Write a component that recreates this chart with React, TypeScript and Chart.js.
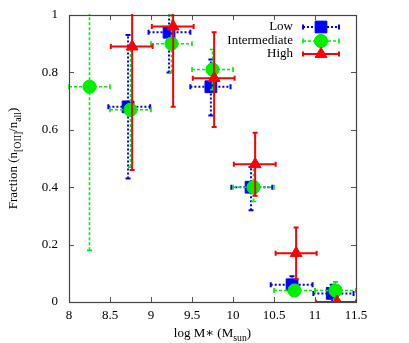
import React, { useEffect, useRef } from "react";
import { Chart, registerables } from "chart.js";
Chart.register(...registerables);

// Low
const lowX = [8.72, 9.22, 9.73, 10.22, 10.72, 11.21];
const lowY = [0.68, 0.94, 0.75, 0.40, 0.06, 0.03];
const lowXMin = [8.48, 8.97, 9.48, 9.98, 10.46, 10.98];
const lowXMax = [8.99, 9.48, 9.97, 10.48, 10.97, 11.47];
const lowYMin = [0.43, 0.80, 0.65, 0.32, 0.03, 0.0];
const lowYMax = [0.93, 1.02, 0.845, 0.47, 0.09, 0.06];

// Intermediate
const intX = [8.25, 8.75, 9.25, 9.75, 10.25, 10.75, 11.25];
const intY = [0.75, 0.67, 0.90, 0.81, 0.40, 0.04, 0.04];
const intXMin = [8.0, 8.5, 9.0, 9.5, 10.0, 10.5, 11.0];
const intXMax = [8.5, 9.0, 9.5, 10.0, 10.5, 11.0, 11.5];
const intYMin = [0.18, 0.47, 0.80, 0.74, 0.35, 0.02, 0.01];
const intYMax = [1.05, 0.88, 1.0, 0.88, 0.47, 0.06, 0.07];

// High
const highX = [8.77, 9.27, 9.77, 10.27, 10.77, 11.27];
const highY = [0.89, 0.96, 0.78, 0.48, 0.17, 0.0];
const highXMin = [8.51, 9.01, 9.51, 10.01, 10.52, 11.01];
const highXMax = [9.02, 9.52, 10.02, 10.52, 11.02, 11.5];
const highYMin = [0.46, 0.68, 0.61, 0.37, 0.08, 0.0];
const highYMax = [1.05, 1.05, 0.94, 0.59, 0.26, 0.0];

const xTicks = [8, 8.5, 9, 9.5, 10, 10.5, 11, 11.5];
const xTickLabels = ["8", "8.5", "9", "9.5", "10", "10.5", "11", "11.5"];
const yTicks = [0, 0.2, 0.4, 0.6, 0.8, 1];
const yTickLabels = ["0", "0.2", "0.4", "0.6", "0.8", "1"];

const seriesNames = ["Low", "Intermediate", "High"];

const FONT = "'Liberation Serif', 'DejaVu Serif', serif";

type Series = {
  label: string;
  x: number[];
  y: number[];
  xmin: number[];
  xmax: number[];
  ymin: number[];
  ymax: number[];
  color: string;
  dash: number[];
  lw: number;
  style: string;
  radius: number;
};

const series: Series[] = [
  { label: seriesNames[0], x: lowX, y: lowY, xmin: lowXMin, xmax: lowXMax, ymin: lowYMin, ymax: lowYMax, color: "#0000ff", dash: [2, 2], lw: 2, style: "rect", radius: 8.3 },
  { label: seriesNames[1], x: intX, y: intY, xmin: intXMin, xmax: intXMax, ymin: intYMin, ymax: intYMax, color: "#00ee00", dash: [3, 2], lw: 1.6, style: "circle", radius: 6.6 },
  { label: seriesNames[2], x: highX, y: highY, xmin: highXMin, xmax: highXMax, ymin: highYMin, ymax: highYMax, color: "#ff0000", dash: [], lw: 2, style: "triangle", radius: 6.8 },
];

function drawMarker(ctx: CanvasRenderingContext2D, style: string, r: number, x: number, y: number) {
  ctx.beginPath();
  if (style === "rect") {
    const h = Math.SQRT1_2 * r;
    ctx.rect(x - h, y - h, 2 * h, 2 * h);
  } else if (style === "circle") {
    ctx.arc(x, y, r, 0, Math.PI * 2);
  } else {
    let rad = 0;
    ctx.moveTo(x + Math.sin(rad) * r, y - Math.cos(rad) * r);
    rad += (2 * Math.PI) / 3;
    ctx.lineTo(x + Math.sin(rad) * r, y - Math.cos(rad) * r);
    rad += (2 * Math.PI) / 3;
    ctx.lineTo(x + Math.sin(rad) * r, y - Math.cos(rad) * r);
    ctx.closePath();
  }
  ctx.fill();
  ctx.stroke();
}

function drawErrorBars(ctx: CanvasRenderingContext2D, s: Series, px: (v: number) => number, py: (v: number) => number) {
  const cap = 2.5;
  ctx.save();
  ctx.strokeStyle = s.color;
  ctx.lineWidth = s.lw;
  ctx.setLineDash(s.dash);
  for (let i = 0; i < s.x.length; i++) {
    const x = px(s.x[i]);
    const y = py(s.y[i]);
    const x0 = px(s.xmin[i]);
    const x1 = px(s.xmax[i]);
    const y0 = py(s.ymin[i]);
    const y1 = py(s.ymax[i]);
    ctx.beginPath();
    ctx.moveTo(x0, y);
    ctx.lineTo(x1, y);
    ctx.moveTo(x, y0);
    ctx.lineTo(x, y1);
    ctx.stroke();
    ctx.setLineDash([]);
    ctx.beginPath();
    ctx.moveTo(x0, y - cap);
    ctx.lineTo(x0, y + cap);
    ctx.moveTo(x1, y - cap);
    ctx.lineTo(x1, y + cap);
    ctx.moveTo(x - cap, y0);
    ctx.lineTo(x + cap, y0);
    ctx.moveTo(x - cap, y1);
    ctx.lineTo(x + cap, y1);
    ctx.stroke();
    ctx.setLineDash(s.dash);
  }
  ctx.restore();
}

function drawSubText(ctx: CanvasRenderingContext2D, parts: [string, boolean][], cx: number, cy: number, size: number) {
  const sub = size * 0.75;
  let total = 0;
  for (const [t, isSub] of parts) {
    ctx.font = `${isSub ? sub : size}px ${FONT}`;
    total += ctx.measureText(t).width;
  }
  let x = cx - total / 2;
  ctx.textBaseline = "alphabetic";
  ctx.textAlign = "left";
  for (const [t, isSub] of parts) {
    ctx.font = `${isSub ? sub : size}px ${FONT}`;
    ctx.fillText(t, x, cy + (isSub ? 3.5 : 0));
    x += ctx.measureText(t).width;
  }
}

const decorPlugin = {
  id: "decor",
  beforeDatasetDraw(chart: any, args: any) {
    const s = series[args.index];
    const { ctx, chartArea } = chart;
    const xs = chart.scales.x;
    const ys = chart.scales.y;
    ctx.save();
    ctx.beginPath();
    ctx.rect(chartArea.left - 1, chartArea.top - 1, chartArea.right - chartArea.left + 2, chartArea.bottom - chartArea.top + 1);
    ctx.clip();
    drawErrorBars(ctx, s, (v) => xs.getPixelForValue(v), (v) => ys.getPixelForValue(v));
    ctx.restore();
  },
  afterDraw(chart: any) {
    const { ctx, chartArea } = chart;
    const xs = chart.scales.x;
    const ys = chart.scales.y;
    const { left, right, top, bottom } = chartArea;
    ctx.save();
    // ticks (inward, mirrored)
    ctx.strokeStyle = "#555";
    ctx.lineWidth = 1;
    const tl = 5;
    ctx.beginPath();
    for (const v of xTicks) {
      const x = Math.round(xs.getPixelForValue(v)) + 0.5;
      ctx.moveTo(x, bottom);
      ctx.lineTo(x, bottom - tl);
      ctx.moveTo(x, top);
      ctx.lineTo(x, top + tl);
    }
    for (const v of yTicks) {
      const y = Math.round(ys.getPixelForValue(v)) + 0.5;
      ctx.moveTo(left, y);
      ctx.lineTo(left + tl, y);
      ctx.moveTo(right, y);
      ctx.lineTo(right - tl, y);
    }
    ctx.stroke();
    // frame
    ctx.strokeStyle = "#444";
    ctx.lineWidth = 1.2;
    ctx.strokeRect(Math.round(left) + 0.5, Math.round(top) + 0.5, Math.round(right - left), Math.round(bottom - top));

    // legend
    const rows = [27, 41, 54];
    series.forEach((s, i) => {
      const y = rows[i];
      ctx.fillStyle = "#000";
      ctx.textAlign = "right";
      ctx.textBaseline = "middle";
      ctx.font = `13px ${FONT}`;
      ctx.fillText(s.label, 293, y);
      ctx.save();
      ctx.strokeStyle = s.color;
      ctx.lineWidth = s.lw;
      ctx.setLineDash(s.dash);
      ctx.beginPath();
      ctx.moveTo(303, y);
      ctx.lineTo(339, y);
      ctx.stroke();
      ctx.setLineDash([]);
      ctx.beginPath();
      ctx.moveTo(303, y - 2.5);
      ctx.lineTo(303, y + 2.5);
      ctx.moveTo(339, y - 2.5);
      ctx.lineTo(339, y + 2.5);
      ctx.stroke();
      ctx.fillStyle = s.color;
      ctx.lineWidth = 1;
      drawMarker(ctx, s.style, s.radius, 321, y);
      ctx.restore();
    });

    // axis titles
    ctx.fillStyle = "#000";
    drawSubText(ctx, [["log M", false], ["∗", false], [" (M", false], ["sun", true], [")", false]], (left + right) / 2, 337, 13);
    ctx.save();
    ctx.translate(17, (top + bottom) / 2);
    ctx.rotate(-Math.PI / 2);
    drawSubText(ctx, [["Fraction (n", false], ["[OII]", true], ["/n", false], ["all", true], [")", false]], 0, 0, 13);
    ctx.restore();
    ctx.restore();
  },
};

export default function App() {
  const ref = useRef<HTMLCanvasElement | null>(null);
  useEffect(() => {
    document.body.style.margin = "0";
    const canvas = ref.current!;
    const datasets = series.map((s, i) => ({
      label: s.label,
      data: s.x.map((x, j) => ({ x, y: s.y[j] })),
      showLine: false,
      pointStyle: s.style,
      pointRadius: s.radius,
      pointHoverRadius: s.radius,
      backgroundColor: s.color,
      borderColor: s.color,
      borderWidth: 1,
      order: 3 - i,
      clip: { left: 10, right: 10, top: 10, bottom: 0 },
    }));
    const chart = new Chart(canvas, {
      type: "scatter",
      data: { datasets },
      options: {
        animation: false,
        responsive: false,
        layout: { padding: { left: 0, top: 15, right: 53, bottom: 0 } },
        plugins: { legend: { display: false }, tooltip: { enabled: false } },
        scales: {
          x: {
            type: "linear",
            min: 8,
            max: 11.5,
            grid: { display: false, drawTicks: false },
            border: { display: false },
            afterBuildTicks: (sc: any) => {
              sc.ticks = xTicks.map((v) => ({ value: v }));
            },
            afterFit: (sc: any) => {
              sc.height = 41;
              sc.paddingLeft = 0;
              sc.paddingRight = 0;
            },
            ticks: {
              padding: 6,
              color: "#000",
              font: { family: FONT, size: 13 },
              maxRotation: 0,
              autoSkip: false,
              callback: (_v: any, i: number) => xTickLabels[i],
            },
          },
          y: {
            type: "linear",
            min: 0,
            max: 1,
            grid: { display: false, drawTicks: false },
            border: { display: false },
            afterBuildTicks: (sc: any) => {
              sc.ticks = yTicks.map((v) => ({ value: v }));
            },
            afterFit: (sc: any) => {
              sc.width = 69;
              sc.paddingTop = 0;
              sc.paddingBottom = 0;
            },
            ticks: {
              padding: 11,
              color: "#000",
              font: { family: FONT, size: 13 },
              autoSkip: false,
              callback: (_v: any, i: number) => yTickLabels[i],
            },
          },
        },
      },
      plugins: [decorPlugin],
    } as any);
    return () => chart.destroy();
  }, []);
  return (
    <div style={{ width: 409, height: 343 }}>
      <canvas ref={ref} width={409} height={343} style={{ width: 409, height: 343, display: "block" }} />
    </div>
  );
}
